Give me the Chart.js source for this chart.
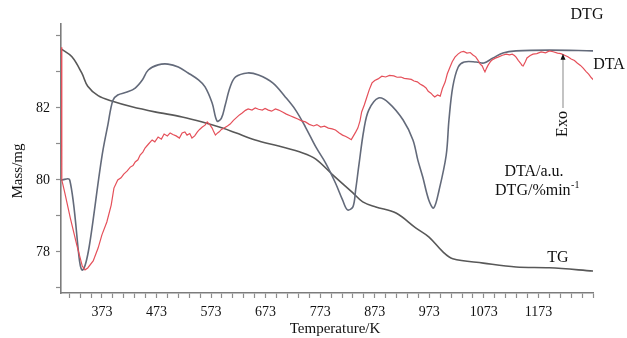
<!DOCTYPE html>
<html>
<head>
<meta charset="utf-8">
<script src="https://cdn.jsdelivr.net/npm/chart.js@4/dist/chart.umd.min.js"></script>
<style>
  html, body { margin: 0; padding: 0; background: #ffffff; }
  #wrap { width: 627px; height: 338px; position: relative; }
</style>
</head>
<body>
<div id="wrap"><canvas id="c" width="627" height="338"></canvas></div>
<script>
// ---- Data ----
// TG: mass (mg) vs temperature (K)
const tgTemp = [298, 318, 336, 347, 366, 391, 428, 470, 520, 557, 594, 618, 654, 697, 741, 765, 796, 833, 851, 875, 912, 948, 972, 998, 1016, 1072, 1132, 1193, 1274];
const tgMass = [83.64, 83.42, 82.97, 82.60, 82.34, 82.19, 82.03, 81.89, 81.75, 81.61, 81.44, 81.31, 81.11, 80.94, 80.75, 80.58, 80.14, 79.64, 79.39, 79.25, 79.08, 78.67, 78.42, 78.0, 77.81, 77.69, 77.58, 77.56, 77.47];

// DTG: arbitrary units (0-100) vs temperature (K)
const dtgTemp = [298, 314, 338, 375, 384, 393, 402, 419, 434, 447, 458, 476, 494, 513, 531, 550, 562, 575, 584, 592, 599, 608, 618, 640, 660, 686, 709, 728, 746, 765, 783, 801, 814, 823, 833, 838, 844, 853, 862, 880, 899, 925, 943, 952, 961, 972, 981, 991, 1004, 1009, 1016, 1026, 1037, 1059, 1073, 1090, 1108, 1132, 1193, 1274];
const dtgValue = [42.0, 42.0, 8.6, 53.2, 62.6, 71.6, 73.6, 74.7, 76.2, 79.2, 82.9, 84.8, 85.1, 84.0, 81.8, 79.2, 76.6, 70.6, 63.9, 65.0, 69.9, 76.6, 80.3, 81.8, 81.0, 78.1, 72.9, 68.0, 61.7, 54.3, 48.3, 40.9, 34.6, 30.9, 32.0, 38.3, 47.6, 60.6, 68.0, 72.5, 70.6, 64.3, 56.9, 49.4, 43.1, 34.6, 31.6, 38.3, 51.3, 64.3, 76.6, 84.0, 85.9, 85.9, 85.5, 87.4, 89.2, 90.0, 90.3, 90.0];

// DTA: arbitrary units (0-100) vs temperature (K)
const dtaTemp = [298, 299.5, 305, 315, 327, 337, 342, 347, 357, 366, 373, 382, 390, 395, 402, 408, 413, 419, 425, 430, 434, 439, 443, 448, 452, 458, 465, 470, 476, 482, 487, 493, 498, 503, 509, 515, 520, 525, 529, 534, 538, 543, 548, 552, 557, 562, 566, 571, 575, 578, 581, 585, 588, 592, 597, 603, 608, 614, 619, 625, 630, 636, 641, 648, 654, 660, 667, 672, 678, 684, 691, 697, 704, 711, 719, 725, 732, 739, 746, 753, 761, 767, 774, 781, 788, 795, 801, 808, 814, 820, 825, 830, 834, 838, 842, 846, 849, 854, 858, 863, 868, 873, 879, 886, 893, 900, 908, 914, 921, 927, 934, 940, 945, 951, 956, 962, 967, 971, 976, 980, 983, 988, 993, 997, 1002, 1006, 1011, 1015, 1020, 1026, 1031, 1036, 1042, 1048, 1053, 1058, 1062, 1066, 1070, 1073, 1075, 1078, 1081, 1085, 1088, 1094, 1099, 1107, 1114, 1120, 1125, 1129, 1132, 1136, 1140, 1143, 1145, 1149, 1152, 1158, 1163, 1170, 1178, 1186, 1193, 1200, 1208, 1214, 1220, 1227, 1233, 1239, 1244, 1250, 1255, 1260, 1265, 1270, 1274];
const dtaValue = [91.4, 42.0, 37.2, 27.9, 17.8, 10.0, 8.6, 9.3, 11.9, 16.7, 21.6, 26.4, 32.7, 39.0, 42.0, 42.8, 44.2, 45.3, 46.8, 47.4, 48.7, 49.5, 51.3, 52.4, 53.9, 55.3, 56.9, 56.2, 58.0, 57.2, 59.1, 58.4, 59.5, 58.9, 58.4, 57.6, 59.5, 59.9, 58.7, 59.3, 57.6, 58.4, 59.9, 60.8, 61.7, 62.4, 63.6, 62.5, 61.3, 59.9, 58.7, 59.5, 59.9, 60.8, 61.3, 62.1, 62.8, 64.2, 65.1, 66.2, 66.9, 67.9, 68.4, 68.0, 68.8, 68.3, 68.0, 68.6, 68.0, 67.6, 68.4, 68.0, 67.3, 66.5, 65.8, 65.3, 64.7, 64.0, 63.6, 62.7, 62.1, 62.6, 61.7, 62.0, 61.3, 61.0, 60.6, 59.5, 58.7, 58.2, 57.6, 57.0, 58.4, 59.8, 61.3, 64.0, 67.3, 70.0, 72.5, 75.6, 78.1, 79.0, 79.6, 80.6, 80.3, 80.9, 80.7, 80.2, 80.3, 79.8, 79.6, 79.4, 78.8, 78.5, 77.7, 77.0, 76.2, 75.0, 74.3, 73.4, 72.9, 73.6, 73.2, 76.0, 78.4, 81.5, 84.0, 86.0, 87.7, 88.9, 89.6, 89.8, 89.2, 89.4, 88.5, 87.8, 86.6, 85.2, 84.4, 83.0, 82.2, 83.6, 84.8, 86.0, 86.6, 87.3, 87.7, 88.4, 88.8, 88.5, 88.8, 88.3, 87.7, 86.5, 85.5, 84.6, 84.4, 86.0, 87.4, 88.3, 88.8, 89.0, 89.6, 89.3, 90.0, 89.7, 89.2, 89.0, 88.5, 87.8, 87.0, 86.4, 85.5, 84.6, 83.6, 82.4, 81.4, 80.0, 79.2];

// Tick labels
const xTickLabels = [373, 473, 573, 673, 773, 873, 973, 1073, 1173];
const yTickLabels = [78, 80, 82];

// Text labels
const curveLabels = { dtg: 'DTG', dta: 'DTA', tg: 'TG', exo: 'Exo', unitA: 'DTA/a.u.', unitB: 'DTG/%min', unitBsup: '-1' };
const axisTitles = { x: 'Temperature/K', y: 'Mass/mg' };
const exoTemp = 1218;

// ---- Chart ----
const FONT = "'Liberation Serif', 'DejaVu Serif', serif";
const toXY = (xs, ys) => xs.map((x, i) => ({ x: x, y: ys[i] }));

const annotate = {
  id: 'annotate',
  afterDraw(chart) {
    const ctx = chart.ctx;
    const xs = chart.scales.x, ya = chart.scales.ya;
    ctx.save();
    ctx.fillStyle = '#111';
    ctx.textBaseline = 'middle';
    ctx.textAlign = 'center';
    ctx.font = '16px ' + FONT;
    ctx.fillText(curveLabels.dtg, 587, 15);
    ctx.fillText(curveLabels.dta, 609, 65);
    ctx.fillText(curveLabels.tg, 558, 258);
    ctx.fillText(curveLabels.unitA, 534, 172);
    // DTG/%min-1 with superscript
    ctx.textAlign = 'left';
    const w1 = ctx.measureText(curveLabels.unitB).width;
    ctx.font = '10px ' + FONT;
    const w2 = ctx.measureText(curveLabels.unitBsup).width;
    const startX = 537 - (w1 + w2) / 2;
    ctx.font = '16px ' + FONT;
    ctx.fillText(curveLabels.unitB, startX, 191);
    ctx.font = '10px ' + FONT;
    ctx.fillText(curveLabels.unitBsup, startX + w1 + 0.5, 185);

    // Axis titles
    ctx.textAlign = 'center';
    ctx.font = '15px ' + FONT;
    ctx.fillText(axisTitles.x, 335, 329);
    ctx.save();
    ctx.translate(18, 171);
    ctx.rotate(-Math.PI / 2);
    ctx.fillText(axisTitles.y, 0, 0);
    ctx.restore();

    // Exo arrow
    const ax = xs.getPixelForValue(exoTemp);
    const ay = ya.getPixelForValue(88.2);
    ctx.strokeStyle = '#b5b5b5';
    ctx.lineWidth = 1.6;
    ctx.beginPath();
    ctx.moveTo(ax, ay + 3);
    ctx.lineTo(ax, 108);
    ctx.stroke();
    ctx.fillStyle = '#111';
    ctx.beginPath();
    ctx.moveTo(ax, ay - 2);
    ctx.lineTo(ax - 2.5, ay + 4);
    ctx.lineTo(ax + 2.5, ay + 4);
    ctx.closePath();
    ctx.fill();
    ctx.translate(ax, 124);
    ctx.rotate(-Math.PI / 2);
    ctx.font = '16px ' + FONT;
    ctx.fillText(curveLabels.exo, 0, 0);
    ctx.restore();
  }
};

new Chart(document.getElementById('c'), {
  type: 'line',
  data: {
    datasets: [
      { label: 'DTA', data: toXY(dtaTemp, dtaValue), yAxisID: 'ya', borderColor: '#e5505a', borderWidth: 1.2, tension: 0, pointRadius: 0 },
      { label: 'DTG', data: toXY(dtgTemp, dtgValue), yAxisID: 'ya', borderColor: '#636a7a', borderWidth: 1.6, tension: 0.35, pointRadius: 0 },
      { label: 'TG', data: toXY(tgTemp, tgMass), yAxisID: 'y', borderColor: '#585858', borderWidth: 1.6, tension: 0.35, pointRadius: 0 }
    ]
  },
  options: {
    responsive: false,
    animation: false,
    layout: { padding: { top: 24, right: 34, left: 0, bottom: 0 } },
    plugins: { legend: { display: false }, tooltip: { enabled: false } },
    scales: {
      x: {
        type: 'linear',
        min: 298, max: 1273,
        afterBuildTicks: (s) => {
          const t = [];
          for (let v = 313; v <= 1273; v += 20) t.push({ value: v });
          s.ticks = t;
        },
        afterFit: (s) => { s.height = 45; },
        ticks: {
          autoSkip: false, maxRotation: 0, padding: 6,
          color: '#111', font: { family: FONT, size: 14 },
          callback: (v) => xTickLabels.includes(v) ? String(v) : ''
        },
        grid: { drawOnChartArea: false, drawTicks: true, tickLength: 5, color: '#8c8c8c', tickWidth: 1.2 },
        border: { display: true, color: '#7c7c7c', width: 1.6 },
        title: { display: false }
      },
      y: {
        type: 'linear', position: 'left',
        min: 76.86, max: 84.33,
        afterBuildTicks: (s) => {
          const t = [];
          for (let v = 77; v <= 84; v += 1) t.push({ value: v });
          s.ticks = t;
        },
        afterFit: (s) => { s.width = 61; },
        ticks: {
          autoSkip: false, padding: 6,
          color: '#111', font: { family: FONT, size: 14 },
          callback: (v) => yTickLabels.includes(v) ? String(v) : ''
        },
        grid: { drawOnChartArea: false, drawTicks: true, tickLength: 5, color: '#8c8c8c', tickWidth: 1.2 },
        border: { display: true, color: '#7c7c7c', width: 1.6 },
        title: { display: false }
      },
      ya: { type: 'linear', display: false, min: 0, max: 100 }
    }
  },
  plugins: [annotate]
});
</script>
</body>
</html>
